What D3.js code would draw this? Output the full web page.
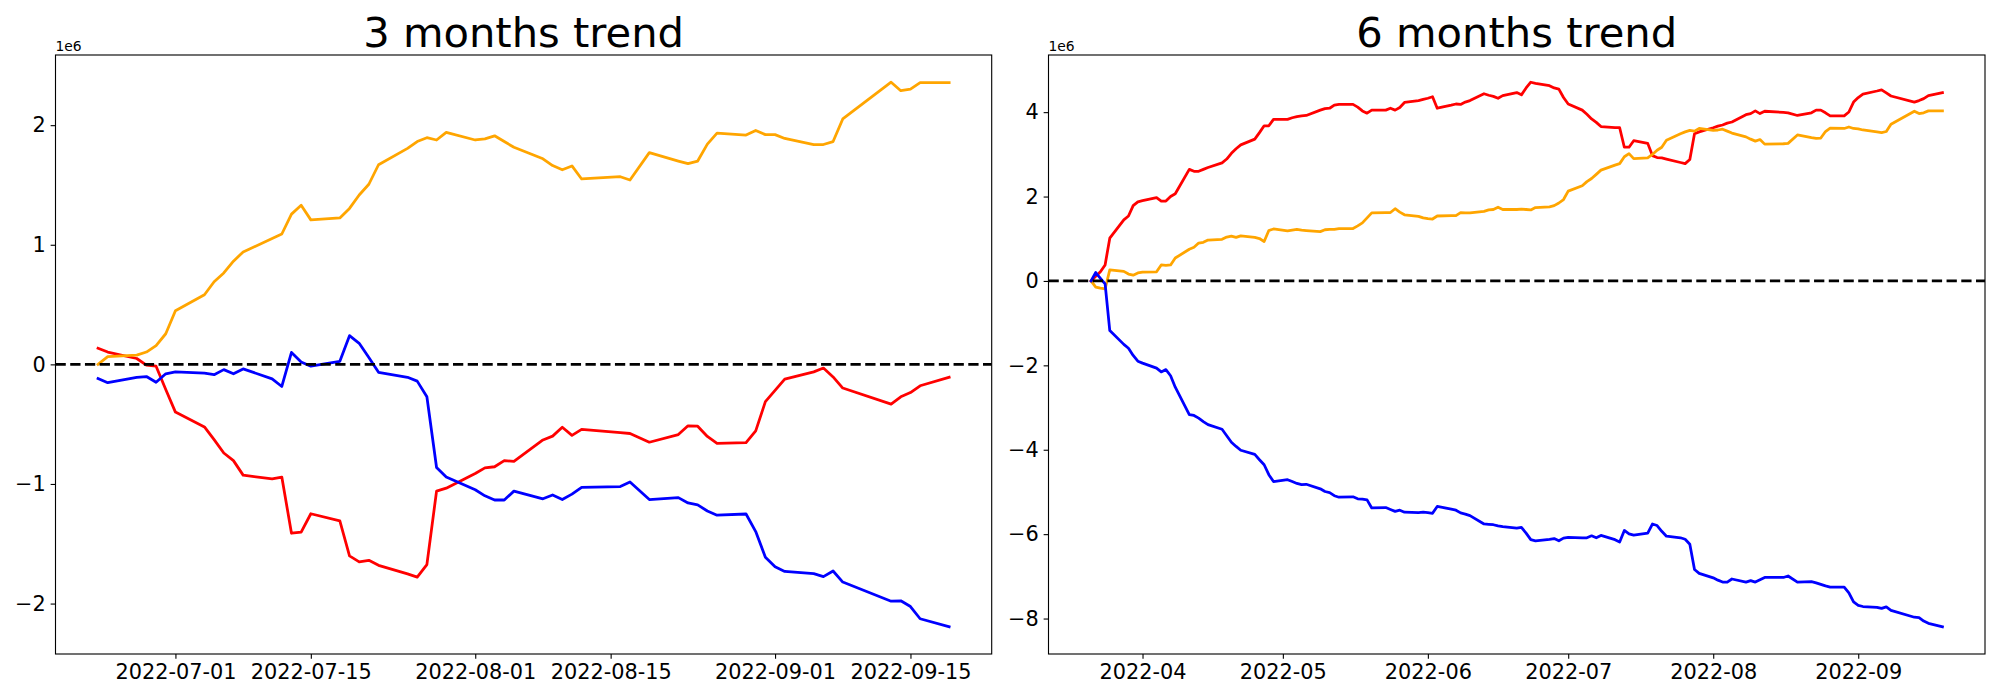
<!DOCTYPE html>
<html>
<head>
<meta charset="utf-8">
<script src="https://cdnjs.cloudflare.com/ajax/libs/d3/7.8.5/d3.min.js"></script>
<style>
  body { margin: 0; background: #fff; }
  svg { font-family: "DejaVu Sans", sans-serif; }
</style>
</head>
<body>
<svg id="chart" width="2000" height="700"></svg>
<script>
// values are in units of 1e6

// ---- 3 months ----
const dates3m = [
  "2022-06-23","2022-06-24","2022-06-27","2022-06-28","2022-06-29","2022-06-30","2022-07-01",
  "2022-07-04","2022-07-05","2022-07-06","2022-07-07","2022-07-08",
  "2022-07-11","2022-07-12","2022-07-13","2022-07-14","2022-07-15",
  "2022-07-18","2022-07-19","2022-07-20","2022-07-21","2022-07-22",
  "2022-07-25","2022-07-26","2022-07-27","2022-07-28","2022-07-29",
  "2022-08-01","2022-08-02","2022-08-03","2022-08-04","2022-08-05",
  "2022-08-08","2022-08-09","2022-08-10","2022-08-11","2022-08-12",
  "2022-08-16","2022-08-17","2022-08-19",
  "2022-08-22","2022-08-23","2022-08-24","2022-08-25","2022-08-26",
  "2022-08-29","2022-08-30","2022-08-31","2022-09-01","2022-09-02",
  "2022-09-05","2022-09-06","2022-09-07","2022-09-08",
  "2022-09-13","2022-09-14","2022-09-15","2022-09-16","2022-09-19"
];
const red3m = [
  0.135, 0.103, 0.049, -0.006, -0.015, -0.210, -0.399,
  -0.523, -0.629, -0.741, -0.805, -0.926,
  -0.958, -0.942, -1.412, -1.402, -1.249,
  -1.309, -1.601, -1.651, -1.638, -1.680,
  -1.752, -1.779, -1.674, -1.060, -1.035,
  -0.913, -0.865, -0.856, -0.805, -0.811,
  -0.632, -0.600, -0.526, -0.594, -0.543,
  -0.571, -0.578, -0.651,
  -0.587, -0.514, -0.517, -0.603, -0.661,
  -0.655, -0.556, -0.312, -0.218, -0.124,
  -0.063, -0.031, -0.105, -0.198,
  -0.332, -0.271, -0.236, -0.179, -0.108
];
const orange3m = [
  0.000, 0.065, 0.077, 0.103, 0.157, 0.256, 0.448,
  0.582, 0.691, 0.764, 0.863, 0.940,
  1.052, 1.090, 1.256, 1.330, 1.208,
  1.224, 1.304, 1.416, 1.506, 1.669,
  1.806, 1.863, 1.895, 1.876, 1.940,
  1.876, 1.886, 1.911, 1.863, 1.815,
  1.719, 1.662, 1.627, 1.659, 1.550,
  1.569, 1.541, 1.770,
  1.700, 1.678, 1.700, 1.841, 1.933,
  1.917, 1.956, 1.921, 1.921, 1.889,
  1.838, 1.838, 1.863, 2.052,
  2.359, 2.288, 2.301, 2.355, 2.355
];
const blue3m = [
  -0.118, -0.153, -0.108, -0.102, -0.150, -0.079, -0.063,
  -0.073, -0.086, -0.044, -0.079, -0.038,
  -0.121, -0.185, 0.100, 0.020, -0.015,
  0.026, 0.240, 0.176, 0.058, -0.066,
  -0.108, -0.140, -0.271, -0.862, -0.942,
  -1.048, -1.099, -1.134, -1.134, -1.060,
  -1.124, -1.092, -1.130, -1.085, -1.028,
  -1.022, -0.983, -1.130,
  -1.114, -1.159, -1.175, -1.226, -1.261,
  -1.251, -1.398, -1.612, -1.692, -1.731,
  -1.750, -1.775, -1.728, -1.820,
  -1.980, -1.977, -2.025, -2.127, -2.194
];

// ---- 6 months ----
const dates6m = [
  "2022-03-21","2022-03-22","2022-03-23","2022-03-24","2022-03-25",
  "2022-03-28","2022-03-29","2022-03-30","2022-03-31","2022-04-01",
  "2022-04-04","2022-04-05","2022-04-06","2022-04-07","2022-04-08",
  "2022-04-11","2022-04-12","2022-04-13","2022-04-14","2022-04-15",
  "2022-04-18","2022-04-19","2022-04-20","2022-04-21","2022-04-22",
  "2022-04-25","2022-04-26","2022-04-27","2022-04-28","2022-04-29",
  "2022-05-02","2022-05-03","2022-05-04","2022-05-05","2022-05-06",
  "2022-05-09","2022-05-10","2022-05-11","2022-05-12","2022-05-13",
  "2022-05-16","2022-05-17","2022-05-18","2022-05-19","2022-05-20",
  "2022-05-23","2022-05-24","2022-05-25","2022-05-26","2022-05-27",
  "2022-05-30","2022-05-31","2022-06-01","2022-06-02","2022-06-03",
  "2022-06-06","2022-06-07","2022-06-08","2022-06-09","2022-06-10",
  "2022-06-13","2022-06-14","2022-06-15","2022-06-16","2022-06-17",
  "2022-06-20","2022-06-21","2022-06-22","2022-06-23","2022-06-24",
  "2022-06-27","2022-06-28","2022-06-29","2022-06-30","2022-07-01",
  "2022-07-04","2022-07-05","2022-07-06","2022-07-07","2022-07-08",
  "2022-07-11","2022-07-12","2022-07-13","2022-07-14","2022-07-15",
  "2022-07-18","2022-07-19","2022-07-20","2022-07-21","2022-07-22",
  "2022-07-25","2022-07-26","2022-07-27","2022-07-28","2022-07-29",
  "2022-08-01","2022-08-02","2022-08-03","2022-08-04","2022-08-05",
  "2022-08-08","2022-08-09","2022-08-10","2022-08-11","2022-08-12",
  "2022-08-16","2022-08-17","2022-08-19",
  "2022-08-22","2022-08-23","2022-08-24","2022-08-25","2022-08-26",
  "2022-08-29","2022-08-30","2022-08-31","2022-09-01","2022-09-02",
  "2022-09-05","2022-09-06","2022-09-07","2022-09-08",
  "2022-09-13","2022-09-14","2022-09-15","2022-09-16","2022-09-19"
];
const red6m = [
  0.000, 0.109, 0.217, 0.380, 1.014,
  1.449, 1.539, 1.784, 1.875, 1.902,
  1.974, 1.893, 1.893, 2.001, 2.065,
  2.644, 2.599, 2.599, 2.644, 2.689,
  2.798, 2.889, 3.025, 3.133, 3.224,
  3.360, 3.514, 3.677, 3.677, 3.830,
  3.830, 3.867, 3.894, 3.912, 3.921,
  4.048, 4.084, 4.093, 4.166, 4.184,
  4.184, 4.120, 4.030, 3.975, 4.048,
  4.048, 4.093, 4.048, 4.111, 4.229,
  4.274, 4.301, 4.329, 4.365, 4.093,
  4.166, 4.193, 4.184, 4.238, 4.274,
  4.437, 4.401, 4.374, 4.329, 4.392,
  4.464, 4.410, 4.573, 4.709, 4.682,
  4.627, 4.573, 4.546, 4.347, 4.193,
  4.048, 3.948, 3.840, 3.758, 3.658,
  3.631, 3.631, 3.169, 3.169, 3.323,
  3.260, 2.970, 2.925, 2.916, 2.889,
  2.807, 2.780, 2.880, 3.486, 3.532,
  3.631, 3.668, 3.695, 3.740, 3.767,
  3.939, 3.966, 4.030, 3.966, 4.021,
  3.993, 3.984, 3.921,
  3.984, 4.048, 4.048, 3.984, 3.912,
  3.912, 4.003, 4.238, 4.347, 4.428,
  4.501, 4.528, 4.455, 4.383,
  4.238, 4.274, 4.320, 4.392, 4.464
];
const orange6m = [
  0.000, -0.145, -0.172, -0.190, 0.263,
  0.226, 0.163, 0.136, 0.190, 0.208,
  0.217, 0.380, 0.371, 0.380, 0.543,
  0.752, 0.797, 0.897, 0.915, 0.969,
  0.987, 1.041, 1.060, 1.032, 1.069,
  1.032, 1.005, 0.933, 1.195, 1.232,
  1.186, 1.204, 1.223, 1.204, 1.195,
  1.168, 1.213, 1.223, 1.223, 1.241,
  1.241, 1.304, 1.376, 1.494, 1.612,
  1.621, 1.621, 1.711, 1.630, 1.567,
  1.530, 1.494, 1.476, 1.467, 1.539,
  1.549, 1.549, 1.621, 1.612, 1.612,
  1.648, 1.684, 1.693, 1.748, 1.693,
  1.693, 1.702, 1.693, 1.684, 1.739,
  1.757, 1.784, 1.847, 1.929, 2.128,
  2.255, 2.354, 2.427, 2.526, 2.626,
  2.744, 2.780, 2.943, 3.016, 2.898,
  2.916, 2.997, 3.097, 3.169, 3.332,
  3.486, 3.532, 3.568, 3.550, 3.613,
  3.568, 3.577, 3.595, 3.550, 3.505,
  3.414, 3.360, 3.314, 3.351, 3.242,
  3.251, 3.260, 3.459,
  3.396, 3.378, 3.387, 3.541, 3.622,
  3.613, 3.649, 3.613, 3.604, 3.577,
  3.532, 3.514, 3.541, 3.713,
  4.021, 3.966, 3.984, 4.030, 4.030
];
const blue6m = [
  0.000, 0.199, 0.063, -0.072, -1.177,
  -1.503, -1.594, -1.766, -1.902, -1.947,
  -2.065, -2.155, -2.101, -2.246, -2.518,
  -3.169, -3.188, -3.251, -3.332, -3.405,
  -3.514, -3.667, -3.821, -3.921, -4.012,
  -4.111, -4.238, -4.356, -4.591, -4.754,
  -4.709, -4.754, -4.799, -4.827, -4.818,
  -4.926, -4.990, -5.017, -5.089, -5.125,
  -5.116, -5.162, -5.171, -5.189, -5.379,
  -5.370, -5.415, -5.461, -5.433, -5.479,
  -5.488, -5.479, -5.488, -5.506, -5.343,
  -5.406, -5.433, -5.497, -5.524, -5.560,
  -5.759, -5.768, -5.777, -5.805, -5.823,
  -5.859, -5.841, -5.977, -6.131, -6.158,
  -6.122, -6.104, -6.158, -6.095, -6.077,
  -6.086, -6.086, -6.040, -6.086, -6.031,
  -6.131, -6.185, -5.913, -5.995, -6.022,
  -5.977, -5.760, -5.796, -5.932, -6.049,
  -6.086, -6.122, -6.239, -6.837, -6.928,
  -7.036, -7.090, -7.136, -7.136, -7.063,
  -7.136, -7.100, -7.136, -7.081, -7.027,
  -7.027, -6.991, -7.136,
  -7.127, -7.154, -7.190, -7.226, -7.254,
  -7.254, -7.389, -7.607, -7.688, -7.715,
  -7.733, -7.760, -7.724, -7.806,
  -7.969, -7.978, -8.060, -8.114, -8.195
];

const xTicks3m = ["2022-07-01","2022-07-15","2022-08-01","2022-08-15","2022-09-01","2022-09-15"];
const xTicks6m = ["2022-04-01","2022-05-01","2022-06-01","2022-07-01","2022-08-01","2022-09-01"];
const yTicks3m = [-2, -1, 0, 1, 2];
const yTicks6m = [-8, -6, -4, -2, 0, 2, 4];

const parse = d3.timeParse("%Y-%m-%d");
const svg = d3.select("#chart");

const PX = 100 / 72;           // points -> pixels at dpi 100
const axTop = 55, axBottom = 654;

// matplotlib-style 5% margin
function pad(ext) {
  const lo = +ext[0], hi = +ext[1];
  const m = (hi - lo) * 0.05;
  return [lo - m, hi + m];
}

function panel(p) {
  const dates = p.dates.map(parse);
  const all = p.series.flatMap(s => s.values);

  const x = d3.scaleTime()
    .domain(pad(d3.extent(dates)).map(t => new Date(t)))
    .range([p.left, p.right]);
  const y = d3.scaleLinear()
    .domain(pad(d3.extent(all)))
    .range([axBottom, axTop]);

  const g = svg.append('g');

  p.series.forEach(s => {
    const pts = dates.map((d, i) => [d, s.values[i]]);
    g.append('path')
      .datum(pts)
      .attr('fill', 'none')
      .attr('stroke', s.color)
      .attr('stroke-width', 2 * PX)
      .attr('stroke-linejoin', 'round')
      .attr('stroke-linecap', 'square')
      .attr('d', d3.line().x(d => x(d[0])).y(d => y(d[1])));
  });

  g.append('line')
    .attr('x1', p.left).attr('x2', p.right)
    .attr('y1', y(0)).attr('y2', y(0))
    .attr('stroke', '#000')
    .attr('stroke-width', 2 * PX)
    .attr('stroke-dasharray', (7.4 * PX) + ',' + (3.2 * PX));

  const xAxis = d3.axisBottom(x)
    .tickValues(p.xTicks.map(parse))
    .tickFormat(d3.timeFormat(p.xFormat))
    .tickSize(3.5 * PX).tickSizeOuter(0).tickPadding(3.5 * PX);
  const yAxis = d3.axisLeft(y)
    .tickValues(p.yTicks)
    .tickFormat(d3.format('d'))
    .tickSize(3.5 * PX).tickSizeOuter(0).tickPadding(3.5 * PX);

  [g.append('g').attr('transform', 'translate(0,' + axBottom + ')').call(xAxis),
   g.append('g').attr('transform', 'translate(' + p.left + ',0)').call(yAxis)]
    .forEach(a => {
      a.select('.domain').remove();
      a.selectAll('line').attr('stroke-width', 0.8 * PX);
      a.selectAll('text').attr('font-size', 15 * PX).attr('fill', '#000')
        .attr('font-family', '"DejaVu Sans", sans-serif');
    });

  g.append('rect')
    .attr('x', p.left).attr('y', axTop)
    .attr('width', p.right - p.left).attr('height', axBottom - axTop)
    .attr('fill', 'none').attr('stroke', '#000').attr('stroke-width', 0.8 * PX);

  g.append('text')
    .attr('x', p.left).attr('y', axTop - 4)
    .attr('font-size', 10 * PX)
    .text('1e6');

  g.append('text')
    .attr('x', (p.left + p.right) / 2).attr('y', axTop - 8)
    .attr('text-anchor', 'middle')
    .attr('font-size', 30 * PX)
    .text(p.title);
}

panel({
  title: '3 months trend', left: 55.5, right: 991.7,
  dates: dates3m, xTicks: xTicks3m, xFormat: '%Y-%m-%d', yTicks: yTicks3m,
  series: [
    { values: red3m, color: 'red' },
    { values: orange3m, color: 'orange' },
    { values: blue3m, color: 'blue' }
  ]
});

panel({
  title: '6 months trend', left: 1048.5, right: 1985,
  dates: dates6m, xTicks: xTicks6m, xFormat: '%Y-%m', yTicks: yTicks6m,
  series: [
    { values: red6m, color: 'red' },
    { values: orange6m, color: 'orange' },
    { values: blue6m, color: 'blue' }
  ]
});
</script>
</body>
</html>
